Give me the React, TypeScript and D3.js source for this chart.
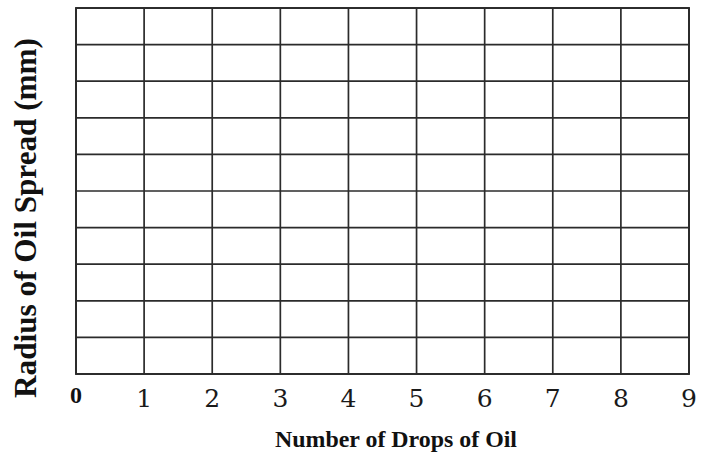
import React from "react";
import * as d3 from "d3";

const xTickLabels = ["0", "1", "2", "3", "4", "5", "6", "7", "8", "9"];
const xTickValues = [0, 1, 2, 3, 4, 5, 6, 7, 8, 9];
const yGridValues = [0, 1, 2, 3, 4, 5, 6, 7, 8, 9, 10];
const xTitle = "Number of Drops of Oil";
const yTitle = "Radius of Oil Spread (mm)";

const W = 707;
const H = 454;
const M = { left: 76, right: 18, top: 8, bottom: 80 };

export default function App() {
  const x = d3.scaleLinear().domain([0, 9]).range([M.left, W - M.right]);
  const y = d3.scaleLinear().domain([0, 10]).range([H - M.bottom, M.top]);
  const stroke = "#2b2b2b";
  const serif = "'Liberation Serif', 'Times New Roman', serif";
  const digitFont = "'DejaVu Serif', serif";
  return (
    <svg
      width={W}
      height={H}
      style={{ position: "absolute", left: 0, top: 0, display: "block", background: "#fff" }}
    >
      <g>
        {xTickValues.map((v) => (
          <line
            key={"v" + v}
            x1={x(v)}
            x2={x(v)}
            y1={y(0)}
            y2={y(10)}
            stroke={stroke}
            strokeWidth={1.7}
          />
        ))}
        {yGridValues.map((v) => (
          <line
            key={"h" + v}
            x1={x(0)}
            x2={x(9)}
            y1={y(v)}
            y2={y(v)}
            stroke={stroke}
            strokeWidth={1.7}
          />
        ))}
        <rect
          x={x(0)}
          y={y(10)}
          width={x(9) - x(0)}
          height={y(0) - y(10)}
          fill="none"
          stroke={stroke}
          strokeWidth={1.9}
        />
      </g>
      <g>
        {xTickValues.map((v, i) =>
          i === 0 ? (
            <text
              key={"t" + v}
              x={x(v)}
              y={403}
              textAnchor="middle"
              fontFamily={serif}
              fontWeight="bold"
              fontSize={24}
              fill="#111"
            >
              {xTickLabels[i]}
            </text>
          ) : (
            <text
              key={"t" + v}
              x={x(v)}
              y={407}
              textAnchor="middle"
              fontFamily={digitFont}
              fontSize={25}
              fill="#1a1a1a"
            >
              {xTickLabels[i]}
            </text>
          )
        )}
      </g>
      <text
        x={396}
        y={447}
        textAnchor="middle"
        fontFamily={serif}
        fontWeight="bold"
        fontSize={23}
        fill="#111"
        textLength={242}
        lengthAdjust="spacingAndGlyphs"
      >
        {xTitle}
      </text>
      <text
        transform={`translate(36, 218) rotate(-90)`}
        textAnchor="middle"
        fontFamily={serif}
        fontWeight="bold"
        fontSize={31}
        fill="#111"
        textLength={360}
        lengthAdjust="spacingAndGlyphs"
      >
        {yTitle}
      </text>
    </svg>
  );
}
